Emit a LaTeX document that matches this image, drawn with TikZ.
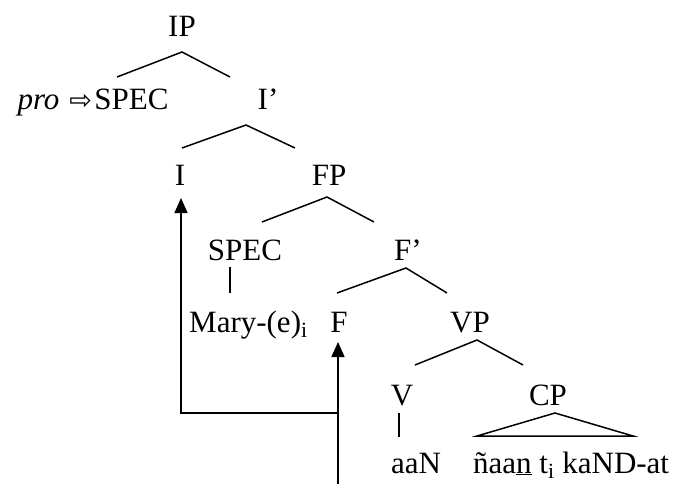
\documentclass[tikz,border=0pt]{standalone}
\usepackage{fontspec}
\setmainfont{Liberation Serif}
\newfontfamily\arrowfont{DejaVu Sans}
\usetikzlibrary{positioning, arrows.meta, calc}

\begin{document}
\begin{tikzpicture}[
    x=1pt, y=-1pt,
    lbl/.style={inner sep=0pt, anchor=base, text depth=0pt,
                font=\fontsize{31}{36}\selectfont},
    branch/.style={line width=1.5pt},
    move/.style={-{Triangle[length=15pt, width=13pt]}, line width=1.5pt}
]
  \useasboundingbox (0,0) rectangle (687,484);

  % IP and I'
  \node[lbl] (ip) at (182,37) {IP};
  \node[lbl] (spec1) at (131.5,110) {SPEC};
  \node[lbl, anchor=base east] (pro) at ($(spec1.base west)+(-2,0)$)
       {\textit{pro}\hspace{10pt}{\arrowfont\fontsize{27}{30}\selectfont ⇨}};
  \node[lbl] (ibar) at (268,110) {I’};
  \node[lbl] (i) at (180,185) {I};
  \node[lbl] (fp) at (329,185) {FP};

  % FP and F'
  \node[lbl] (spec2) at (245,260) {SPEC};
  \node[lbl] (fbar) at (408,260) {F’};
  \node[lbl, anchor=base west] (mary) at (189,332) {Mary-(e)\textsubscript{i}};
  \node[lbl] (f) at (339,332) {F};
  \node[lbl] (vp) at (470,332) {VP};

  % VP
  \node[lbl] (v) at (402,405) {V};
  \node[lbl] (cp) at (548,405) {CP};
  \node[lbl] (aan) at (416,473) {aaN};
  \node[lbl, anchor=base west] (clause) at (473,473)
       {ñaa\underline{n} t\textsubscript{i} kaND-at};

  \draw[branch] ($(ip.base)+(-65,40)$) -- ($(ip.base)+(0,15)$) -- ($(ip.base)+(48,40)$);
  \draw[branch] ($(ibar.base)+(-86,38)$) -- ($(ibar.base)+(-22,15)$) -- ($(ibar.base)+(27,38)$);
  \draw[branch] ($(fp.base)+(-67,37)$) -- ($(fp.base)+(-2,12)$) -- ($(fp.base)+(45,37)$);
  \draw[branch] ($(fbar.base)+(-71,33)$) -- ($(fbar.base)+(-2,8)$) -- ($(fbar.base)+(39,33)$);
  \draw[branch] ($(vp.base)+(-55,33)$) -- ($(vp.base)+(7,8)$) -- ($(vp.base)+(53,33)$);
  \draw[branch] ($(spec2.base)+(-15,7)$) -- ($(spec2.base)+(-15,33)$);
  \draw[branch] ($(v.base)+(-3,8)$) -- ($(v.base)+(-3,32)$);
  \draw[branch] ($(cp.base)+(-71,31)$) -- ($(cp.base)+(7,8)$) -- ($(cp.base)+(85,31)$) -- cycle;

  % head movement
  \coordinate (bot) at (0,484);
  \coordinate (tbot) at ($(f.base |- bot)+(-1,0)$);
  \coordinate (turn) at ($(tbot)+(0,-71)$);
  \draw[move] (tbot) -- ($(f.base)+(-1,10)$);
  \draw[move] (turn) -| ($(i.base)+(1,13)$);
\end{tikzpicture}
\end{document}
